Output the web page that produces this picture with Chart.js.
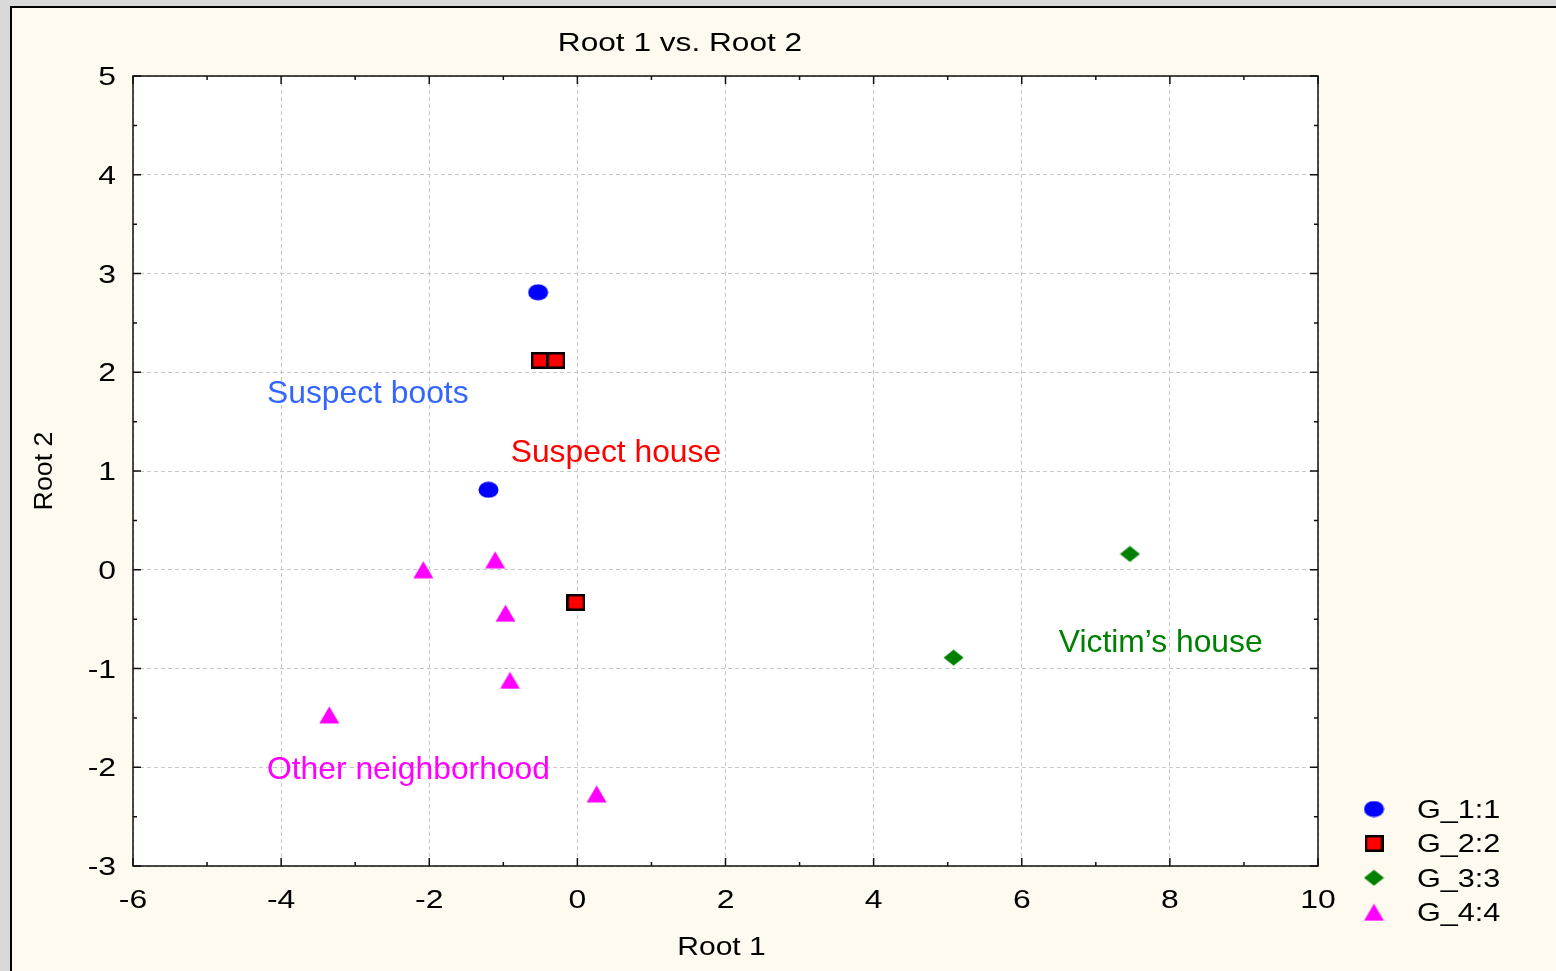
<!DOCTYPE html>
<html>
<head>
<meta charset="utf-8">
<script src="https://cdn.jsdelivr.net/npm/chart.js@4.4.1/dist/chart.umd.min.js"></script>
<style>
  html, body { margin: 0; padding: 0; background: #d9d9d9; overflow: hidden; }
  #plot { position: absolute; left: 0; top: 0; }
</style>
</head>
<body>
<canvas id="plot" width="1556" height="971"></canvas>
<script>
/* global Chart */

const groupNames = ['G_1:1', 'G_2:2', 'G_3:3', 'G_4:4'];
const groupColors = ['#0000ff', '#ff0000', '#008000', '#ff00ff'];

const g1X = [-0.53, -1.20];
const g1Y = [2.81, 0.81];
const g2X = [-0.50, -0.29, -0.02];
const g2Y = [2.12, 2.12, -0.33];
const g3X = [5.08, 7.46];
const g3Y = [-0.89, 0.16];
const g4X = [-2.08, -1.11, -0.97, -0.91, -3.35, 0.26];
const g4Y = [0.00, 0.10, -0.44, -1.12, -1.47, -2.27];

const xTicks = [-6, -4, -2, 0, 2, 4, 6, 8, 10];
const yTicks = [-3, -2, -1, 0, 1, 2, 3, 4, 5];

const noteText = ['Suspect boots', 'Suspect house', 'Victim\u2019s house', 'Other neighborhood'];
const noteX = [-4.19, -0.90, 6.50, -4.19];
const noteY = [1.78, 1.18, -0.74, -2.03];
const noteColors = ['#3366ff', '#ff0000', '#008000', '#ff00ff'];

const FONT = '"Liberation Sans", Arial, sans-serif';

function makeMarker(kind, w, h, fill) {
  const c = document.createElement('canvas');
  c.width = w;
  c.height = h;
  const ctx = c.getContext('2d');
  ctx.fillStyle = fill;
  ctx.beginPath();
  if (kind === 'ellipse') {
    ctx.ellipse(w / 2, h / 2, w / 2 - 0.5, h / 2 - 0.5, 0, 0, Math.PI * 2);
    ctx.fill();
  } else if (kind === 'square') {
    ctx.fillRect(0, 0, w, h);
    ctx.lineWidth = 2.5;
    ctx.strokeStyle = '#000';
    ctx.strokeRect(1.25, 1.25, w - 2.5, h - 2.5);
  } else if (kind === 'diamond') {
    ctx.moveTo(w / 2, 0.5);
    ctx.lineTo(w - 0.5, h / 2);
    ctx.lineTo(w / 2, h - 0.5);
    ctx.lineTo(0.5, h / 2);
    ctx.closePath();
    ctx.fill();
  } else {
    ctx.moveTo(w / 2, 0.5);
    ctx.lineTo(w - 0.5, h - 0.5);
    ctx.lineTo(0.5, h - 0.5);
    ctx.closePath();
    ctx.fill();
  }
  return c;
}

const markers = [
  makeMarker('ellipse', 21, 17, groupColors[0]),
  makeMarker('square', 19, 17, groupColors[1]),
  makeMarker('diamond', 21, 17, groupColors[2]),
  makeMarker('triangle', 21, 18, groupColors[3]),
];

function toPoints(xs, ys) {
  return xs.map((x, i) => ({ x, y: ys[i] }));
}

function stretchText(ctx, text, x, y, align, sx) {
  ctx.save();
  ctx.translate(x, y);
  ctx.scale(sx, 1);
  ctx.textAlign = align;
  ctx.fillText(text, 0, 0);
  ctx.restore();
}

const framePlugin = {
  id: 'frame',
  beforeDraw(chart) {
    const { ctx, width, height, chartArea } = chart;
    ctx.save();
    ctx.fillStyle = '#d9d9d9';
    ctx.fillRect(0, 0, width, height);
    ctx.fillStyle = '#fffaef';
    ctx.fillRect(10, 6, width - 10, height - 6);
    ctx.strokeStyle = '#000';
    ctx.lineWidth = 2;
    ctx.beginPath();
    ctx.moveTo(10, 7);
    ctx.lineTo(width, 7);
    ctx.moveTo(11, 6);
    ctx.lineTo(11, height);
    ctx.stroke();
    ctx.fillStyle = '#ffffff';
    ctx.fillRect(chartArea.left, chartArea.top, chartArea.right - chartArea.left, chartArea.bottom - chartArea.top);
    ctx.restore();
  },
  beforeDatasetsDraw(chart) {
    const { ctx, scales } = chart;
    ctx.save();
    ctx.font = `31.8px ${FONT}`;
    ctx.textBaseline = 'middle';
    noteText.forEach((t, i) => {
      ctx.fillStyle = noteColors[i];
      ctx.textAlign = 'left';
      ctx.fillText(t, scales.x.getPixelForValue(noteX[i]), scales.y.getPixelForValue(noteY[i]));
    });
    ctx.restore();
  },
  afterDraw(chart) {
    const { ctx, chartArea, scales } = chart;
    const { left, right, top, bottom } = chartArea;
    ctx.save();

    // plot frame
    ctx.strokeStyle = '#111';
    ctx.lineWidth = 1.5;
    ctx.strokeRect(left, top, right - left, bottom - top);

    // inward ticks, major and minor
    ctx.lineWidth = 1.5;
    ctx.beginPath();
    for (let v = scales.x.min; v <= scales.x.max; v += 1) {
      const px = scales.x.getPixelForValue(v);
      const len = v % 2 === 0 ? 8 : 4;
      ctx.moveTo(px, bottom);
      ctx.lineTo(px, bottom - len);
      ctx.moveTo(px, top);
      ctx.lineTo(px, top + len);
    }
    for (let v = scales.y.min; v <= scales.y.max; v += 0.5) {
      const py = scales.y.getPixelForValue(v);
      const len = Number.isInteger(v) ? 8 : 4;
      ctx.moveTo(left, py);
      ctx.lineTo(left + len, py);
      ctx.moveTo(right, py);
      ctx.lineTo(right - len, py);
    }
    ctx.stroke();

    // tick labels
    ctx.fillStyle = '#000';
    ctx.font = `25.5px ${FONT}`;
    ctx.textBaseline = 'middle';
    scales.x.ticks.forEach((t) => {
      stretchText(ctx, String(t.value), scales.x.getPixelForValue(t.value), bottom + 34.5, 'center', 1.25);
    });
    scales.y.ticks.forEach((t) => {
      stretchText(ctx, String(t.value), left - 17, scales.y.getPixelForValue(t.value) + 2, 'right', 1.25);
    });

    // title and axis titles
    stretchText(ctx, 'Root 1 vs. Root 2', 680, 44, 'center', 1.24);
    stretchText(ctx, 'Root 1', (left + right) / 2 - 4, 948, 'center', 1.18);
    ctx.save();
    ctx.translate(45, (top + bottom) / 2);
    ctx.rotate(-Math.PI / 2);
    ctx.scale(1.05, 1);
    ctx.textAlign = 'center';
    ctx.fillText('Root 2', 0, 0);
    ctx.restore();

    // legend
    chart.data.datasets.forEach((ds, i) => {
      const cy = 809 + i * 34.4;
      const img = ds.pointStyle;
      ctx.drawImage(img, 1374 - img.width / 2, cy - img.height / 2);
      ctx.fillStyle = '#000';
      stretchText(ctx, ds.label, 1417, cy + 2, 'left', 1.2);
    });

    ctx.restore();
  },
};

const seriesX = [g1X, g2X, g3X, g4X];
const seriesY = [g1Y, g2Y, g3Y, g4Y];

new Chart(document.getElementById('plot'), {
  type: 'scatter',
  data: {
    datasets: groupNames.map((name, i) => ({
      label: name,
      data: toPoints(seriesX[i], seriesY[i]),
      pointStyle: markers[i],
      pointRadius: 10,
      pointHoverRadius: 10,
      backgroundColor: groupColors[i],
    })),
  },
  options: {
    responsive: false,
    animation: false,
    events: [],
    layout: { padding: { left: 0, top: 76, right: 238, bottom: 0 } },
    plugins: {
      legend: { display: false },
      title: { display: false },
      tooltip: { enabled: false },
    },
    scales: {
      x: {
        type: 'linear',
        min: xTicks[0],
        max: xTicks[xTicks.length - 1],
        afterBuildTicks: (scale) => { scale.ticks = xTicks.map((value) => ({ value })); },
        afterFit: (scale) => { scale.height = 105; },
        ticks: { display: false },
        grid: { color: '#c8c8c8', lineWidth: 1, drawTicks: false },
        border: { display: false, dash: [4, 3] },
      },
      y: {
        type: 'linear',
        min: yTicks[0],
        max: yTicks[yTicks.length - 1],
        afterBuildTicks: (scale) => { scale.ticks = yTicks.map((value) => ({ value })); },
        afterFit: (scale) => { scale.width = 133; },
        ticks: { display: false },
        grid: { color: '#c8c8c8', lineWidth: 1, drawTicks: false },
        border: { display: false, dash: [4, 3] },
      },
    },
  },
  plugins: [framePlugin],
});
</script>
</body>
</html>
